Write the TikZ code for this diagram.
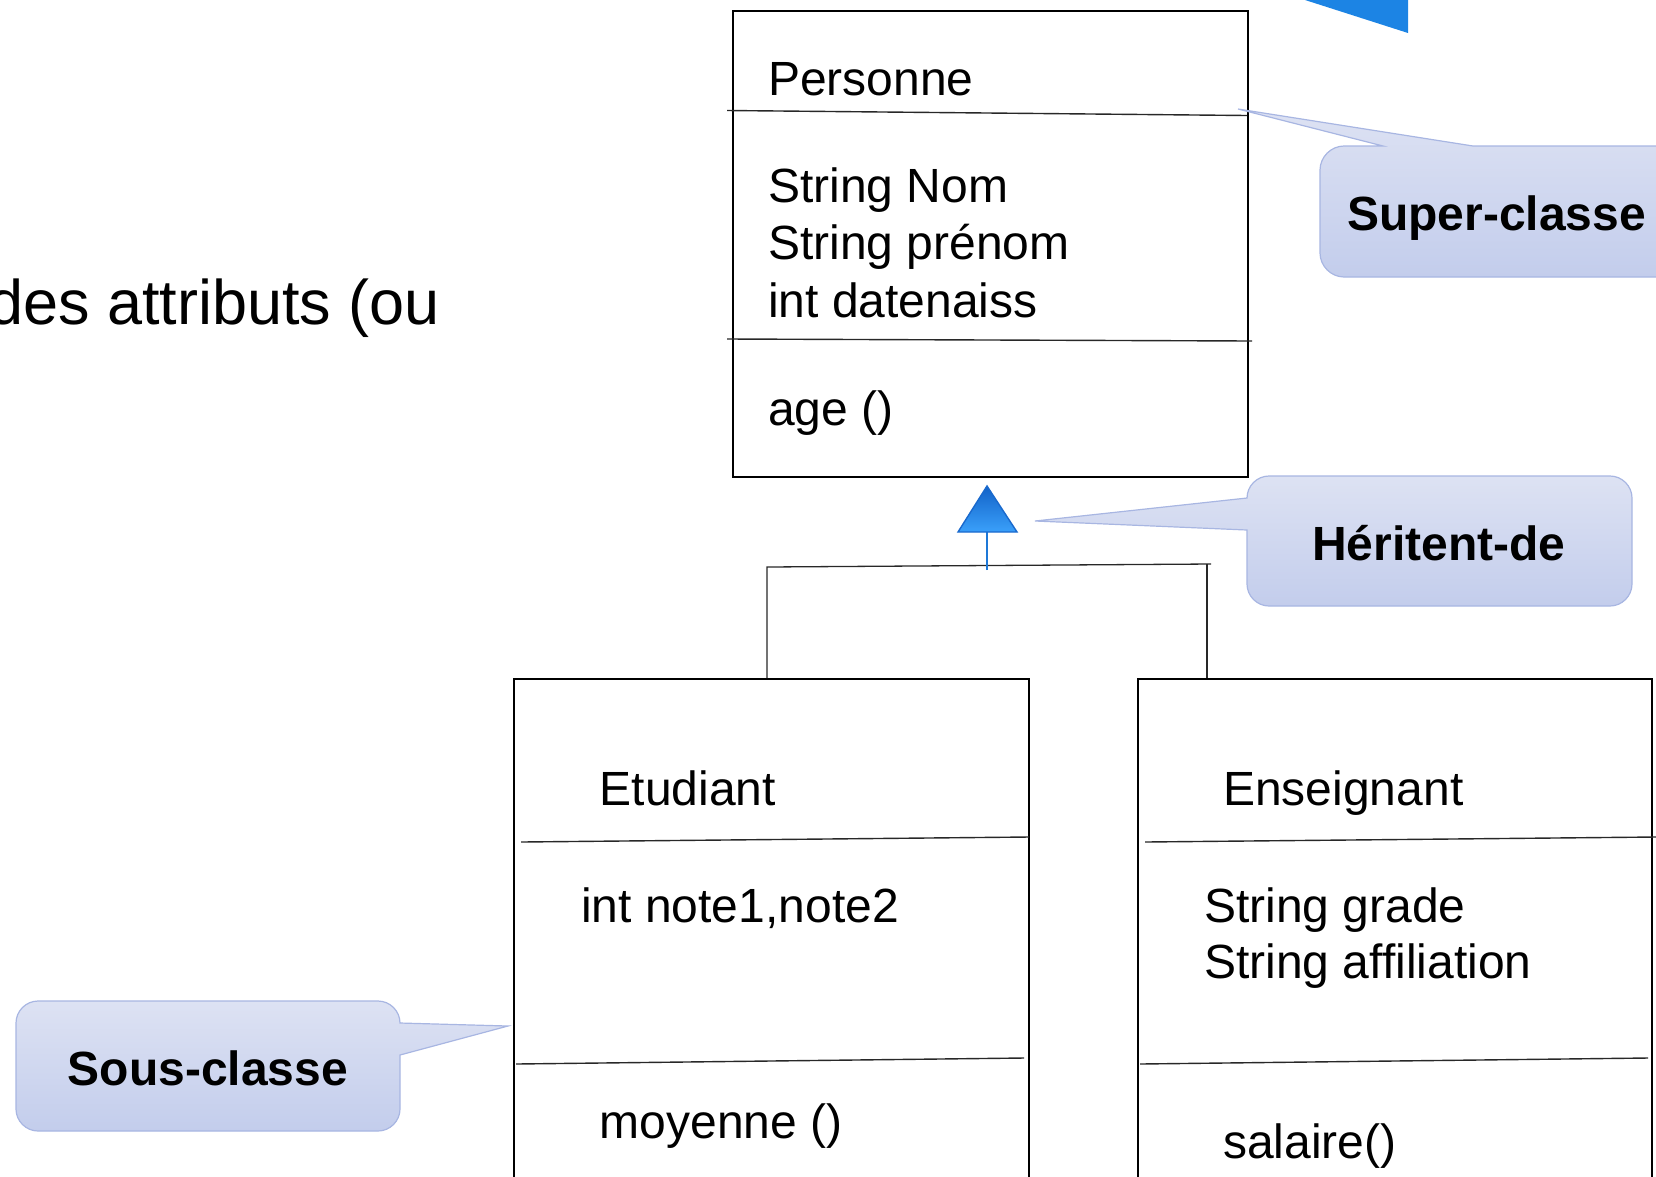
\documentclass[tikz,border=0pt]{standalone}
\usepackage{fontspec}
\setmainfont{Liberation Sans}

\definecolor{calltop}{RGB}{221,226,243}
\definecolor{callbot}{RGB}{195,205,236}
\definecolor{callline}{RGB}{168,182,226}
\definecolor{divline}{RGB}{40,40,40}
\definecolor{tritop}{RGB}{18,98,200}
\definecolor{tribot}{RGB}{58,160,250}
\definecolor{triline}{RGB}{25,105,205}
\definecolor{stemblue}{RGB}{30,120,215}
\definecolor{cornerblue}{RGB}{28,132,228}

\begin{document}
\begin{tikzpicture}[x=1pt,y=-1pt,
  classbox/.style={draw=black, line width=2.4pt, inner sep=0pt, anchor=north west},
  divider/.style={draw=divline, line width=1.4pt},
  member/.style={anchor=base west, inner sep=0pt, font=\fontsize{48}{57.6}\selectfont},
  tag/.style={anchor=base, inner sep=0pt, font=\fontsize{48}{57.6}\selectfont\bfseries},
  conn/.style={draw=divline, line width=1.3pt},
  stem/.style={draw=stemblue, line width=2pt},
  callout/.style={draw=callline, line width=1.2pt, top color=calltop, bottom color=callbot}]

\useasboundingbox (0,0) rectangle (1656,1176);
\clip (0,0) rectangle (1656,1176);

% blue corner shape at the top
\fill[cornerblue] (1305,0) -- (1408,0) -- (1408,33) -- cycle;

% running text on the left
\node[anchor=base east, inner sep=0pt, font=\fontsize{63}{75}\selectfont] (intro) at (440,324) {des attributs (ou};

% ---- class Personne
\node[classbox, minimum width=515pt, minimum height=466pt] (personne) at (732,9.5) {};
\draw[divider] (727,110.5) -- (1247,115.5);
\draw[divider] (727,339) -- (1252,341);
\node[member] (pname) at (768,95) {Personne};
\node[member] (pa1) at (768,202) {String Nom};
\node[member] (pa2) at (768,259.5) {String prénom};
\node[member] (pa3) at (768,317) {int datenaiss};
\node[member] (pm1) at (768,425) {age ()};

% ---- class Etudiant
\node[classbox, minimum width=515pt, minimum height=560pt] (etudiant) at (513,678) {};
\draw[divider] (521,842) -- (1029,837);
\draw[divider] (516,1064) -- (1024,1058);
\node[member] (ename) at (599.5,805) {Etudiant};
\node[member] (ea1) at (581,922) {int note1,note2};
\node[member] (em1) at (599.5,1138) {moyenne ()};

% ---- class Enseignant
\node[classbox, minimum width=514pt, minimum height=560pt] (enseignant) at (1137,678) {};
\draw[divider] (1145,842) -- (1656,837);
\draw[divider] (1140,1064) -- (1648,1058);
\node[member] (sname) at (1223,805) {Enseignant};
\node[member] (sa1) at (1204,922) {String grade};
\node[member] (sa2) at (1204,978.5) {String affiliation};
\node[member] (sm1) at (1223,1158) {salaire()};

% ---- inheritance connector
\coordinate (jl) at (767,567);
\coordinate (jr) at (1207,564);
\coordinate (jrend) at (1211,564);
\coordinate (stemfoot) at (987,570);
\coordinate (tribase) at (987,532);
\draw[conn] (jl |- etudiant.north) -- (jl) -- (jrend);
\draw[conn] (jr |- enseignant.north) -- (jr);
\draw[stem] (stemfoot) -- (tribase);
\path[draw=triline, line width=1.4pt, top color=tritop, bottom color=tribot, line join=miter]
  (987,486) -- (958,532) -- (1017,532) -- cycle;

% ---- callout: Super-classe (radius 24)
\path[callout] (1344,146) -- (1383,146) -- (1238,109) -- (1473,146) -- (1700,146)
  -- (1700,277) -- (1344,277) .. controls (1331,277) and (1320,266) .. (1320,253)
  -- (1320,170) .. controls (1320,157) and (1331,146) .. (1344,146) -- cycle;
\node[tag, anchor=base west] (tsuper) at (1347,230) {Super-classe};

% ---- callout: Héritent-de (radius 22)
\path[callout] (1269,476) -- (1610,476) .. controls (1622,476) and (1632,486) .. (1632,498)
  -- (1632,584) .. controls (1632,596) and (1622,606) .. (1610,606)
  -- (1269,606) .. controls (1257,606) and (1247,596) .. (1247,584)
  -- (1247,530) -- (1035,521) -- (1247,498)
  .. controls (1247,486) and (1257,476) .. (1269,476) -- cycle;
\node[tag] (therit) at (1439,560) {Héritent-de};

% ---- callout: Sous-classe (radius 22)
\path[callout] (38,1001) -- (378,1001) .. controls (390,1001) and (400,1011) .. (400,1023)
  -- (508,1026) -- (400,1055)
  -- (400,1109) .. controls (400,1121) and (390,1131) .. (378,1131)
  -- (38,1131) .. controls (26,1131) and (16,1121) .. (16,1109)
  -- (16,1023) .. controls (16,1011) and (26,1001) .. (38,1001) -- cycle;
\node[tag] (tsous) at (208,1085) {Sous-classe};

\end{tikzpicture}
\end{document}
